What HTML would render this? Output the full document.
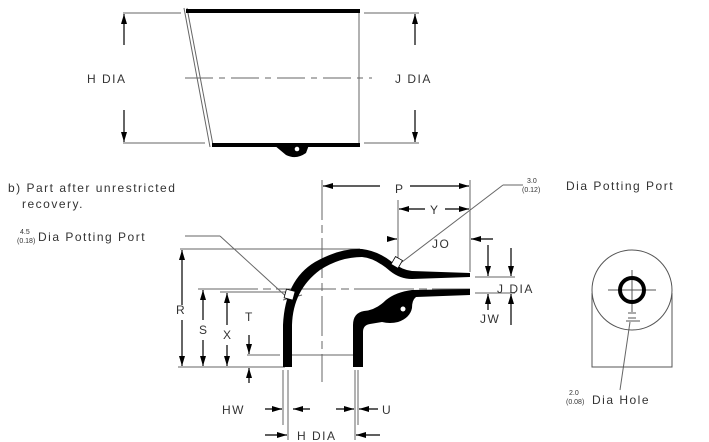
<!DOCTYPE html>
<html><head><style>
html,body{margin:0;padding:0;background:#fff;}
svg{display:block;}
text{font-family:"Liberation Sans",sans-serif;fill:#333;font-size:12px;letter-spacing:1.5px;}
.s{font-size:7px;letter-spacing:0}
</style></head><body>
<svg width="709" height="442" viewBox="0 0 709 442" xmlns="http://www.w3.org/2000/svg">
<defs>
<marker id="a" viewBox="0 0 10 6" refX="10" refY="3" markerWidth="10" markerHeight="6" markerUnits="userSpaceOnUse" orient="auto"><path d="M0,0L10,3L0,6z" fill="#000"/></marker>
</defs>
<g stroke="#666" stroke-width="1" fill="none">
<line x1="123" y1="13" x2="181" y2="13"/><line x1="123" y1="143" x2="205" y2="143"/>
<line x1="364" y1="13" x2="419" y2="13"/><line x1="364" y1="143" x2="419" y2="143"/>
<line x1="185" y1="78" x2="372" y2="78" stroke-dasharray="28,6,6,6"/>
<line x1="359" y1="11" x2="359" y2="145"/>
<line x1="184" y1="8" x2="210" y2="147"/><line x1="187" y1="8" x2="213" y2="145"/>
</g>
<g stroke="#000" stroke-width="1.2">
<line x1="124" y1="45" x2="124" y2="14" marker-end="url(#a)"/><line x1="124" y1="110" x2="124" y2="142" marker-end="url(#a)"/>
<line x1="415" y1="45" x2="415" y2="14" marker-end="url(#a)"/><line x1="415" y1="110" x2="415" y2="142" marker-end="url(#a)"/>
</g>
<line x1="186" y1="11" x2="360" y2="11" stroke="#000" stroke-width="4"/>
<line x1="212" y1="145" x2="360" y2="145" stroke="#000" stroke-width="4"/>
<path d="M274,145 L286,155 Q296,160 306,153 L309,145 Z" fill="#000"/>
<circle cx="297" cy="149" r="2.3" fill="#fff"/>
<text x="87" y="83">H DIA</text><text x="395" y="83">J DIA</text>

<text x="8" y="192">b) Part after unrestricted</text>
<text x="22" y="208">recovery.</text>
<text class="s" x="20" y="234">4.5</text><text class="s" x="17" y="243">(0.18)</text>
<text x="38" y="241">Dia Potting Port</text>
<text class="s" x="527" y="183">3.0</text><text class="s" x="522" y="192">(0.12)</text>
<text x="566" y="190">Dia Potting Port</text>

<g stroke="#666" stroke-width="1" fill="none">
<line x1="322" y1="180" x2="322" y2="382" stroke-dasharray="40,5,8,5"/>
<line x1="470" y1="180" x2="470" y2="272"/>
<line x1="398" y1="200" x2="398" y2="262"/>
<line x1="180" y1="249" x2="360" y2="249"/>
<line x1="198" y1="289" x2="470" y2="289" stroke-dasharray="60,5,8,5"/>
<line x1="220" y1="292" x2="288" y2="292"/>
<line x1="178" y1="367" x2="285" y2="367"/>
<line x1="247" y1="355" x2="280" y2="355"/>
<line x1="292" y1="355" x2="354" y2="355"/>
<line x1="283" y1="370" x2="283" y2="425"/><line x1="288" y1="370" x2="288" y2="440"/>
<line x1="355" y1="370" x2="355" y2="440"/><line x1="358" y1="370" x2="358" y2="425"/>
<line x1="475" y1="277" x2="515" y2="277"/><line x1="475" y1="293" x2="515" y2="293"/>
<line x1="185" y1="236" x2="220" y2="236"/><line x1="220" y1="236" x2="290" y2="300"/>
<line x1="523" y1="185" x2="503" y2="185"/><line x1="503" y1="185" x2="402" y2="262"/>
<line x1="302" y1="295" x2="283" y2="300"/>
<line x1="620" y1="390" x2="630" y2="322"/>
</g>
<g stroke="#000" stroke-width="1.2">
<line x1="380" y1="186" x2="323" y2="186" marker-end="url(#a)"/><line x1="410" y1="186" x2="469" y2="186" marker-end="url(#a)"/>
<line x1="425" y1="209" x2="399" y2="209" marker-end="url(#a)"/><line x1="445" y1="209" x2="469" y2="209" marker-end="url(#a)"/>
<line x1="388" y1="239" x2="397" y2="239" marker-end="url(#a)"/><line x1="493" y1="239" x2="471" y2="239" marker-end="url(#a)"/>
<line x1="182" y1="305" x2="182" y2="250" marker-end="url(#a)"/><line x1="182" y1="320" x2="182" y2="366" marker-end="url(#a)"/>
<line x1="203" y1="320" x2="203" y2="290" marker-end="url(#a)"/><line x1="203" y1="340" x2="203" y2="366" marker-end="url(#a)"/>
<line x1="227" y1="325" x2="227" y2="293" marker-end="url(#a)"/><line x1="227" y1="345" x2="227" y2="366" marker-end="url(#a)"/>
<line x1="249" y1="335" x2="249" y2="354" marker-end="url(#a)"/><line x1="249" y1="383" x2="249" y2="368" marker-end="url(#a)"/>
<line x1="265" y1="409" x2="282" y2="409" marker-end="url(#a)"/><line x1="310" y1="409" x2="293" y2="409" marker-end="url(#a)"/>
<line x1="336" y1="409" x2="354" y2="409" marker-end="url(#a)"/><line x1="378" y1="409" x2="359" y2="409" marker-end="url(#a)"/>
<line x1="265" y1="435" x2="287" y2="435" marker-end="url(#a)"/><line x1="380" y1="435" x2="356" y2="435" marker-end="url(#a)"/>
<line x1="488" y1="245" x2="488" y2="276" marker-end="url(#a)"/><line x1="488" y1="310" x2="488" y2="294" marker-end="url(#a)"/>
<line x1="511" y1="248" x2="511" y2="276" marker-end="url(#a)"/><line x1="511" y1="325" x2="511" y2="294" marker-end="url(#a)"/>
</g>
<path d="M283,367 L283,325 Q285,280 315,262 Q340,248 362,249 Q378,251 392,262 Q402,270 412,271 L470,273 L470,277 L412,279 Q400,279 390,271 Q375,258 362,257 Q340,257 320,270 Q293,290 292,325 L292,367 Z" fill="#000"/>
<path d="M470,289 L412,290 Q396,292 386,300 Q376,310 364,311 Q353,313 353,325 L353,367 L363,367 L363,332 Q363,325 370,324 L382,322 Q390,324 398,322 Q410,318 412,308 Q412,300 416,297 L470,295 Z" fill="#000"/>
<circle cx="403" cy="309" r="2.5" fill="#fff"/>
<rect x="285" y="290" width="9" height="9" fill="#fff" stroke="#000" stroke-width="0.8" transform="rotate(15 289 295)"/>
<rect x="393" y="258" width="8" height="9" fill="#fff" stroke="#000" stroke-width="0.8" transform="rotate(30 397 262)"/>
<text x="395" y="193">P</text><text x="430" y="214">Y</text><text x="432" y="248">JO</text>
<text x="176" y="314">R</text><text x="199" y="334">S</text><text x="223" y="339">X</text><text x="245" y="321">T</text>
<text x="497" y="293">J DIA</text><text x="480" y="323">JW</text>
<text x="222" y="414">HW</text><text x="382" y="414">U</text><text x="297" y="440">H DIA</text>
<g stroke="#555" stroke-width="1" fill="none">
<circle cx="632" cy="290" r="40"/>
<path d="M592,293 L592,367 L672,367 L672,293"/>
<line x1="608" y1="290" x2="656" y2="290"/><line x1="632" y1="270" x2="632" y2="312"/>
<line x1="628" y1="313" x2="636" y2="313"/><line x1="628" y1="318" x2="636" y2="318"/><line x1="626" y1="321" x2="640" y2="321"/>
</g>
<circle cx="632" cy="290" r="12" fill="none" stroke="#000" stroke-width="4"/>
<text class="s" x="569" y="395">2.0</text><text class="s" x="566" y="404">(0.08)</text>
<text x="592" y="404">Dia Hole</text>
</svg>
</body></html>
